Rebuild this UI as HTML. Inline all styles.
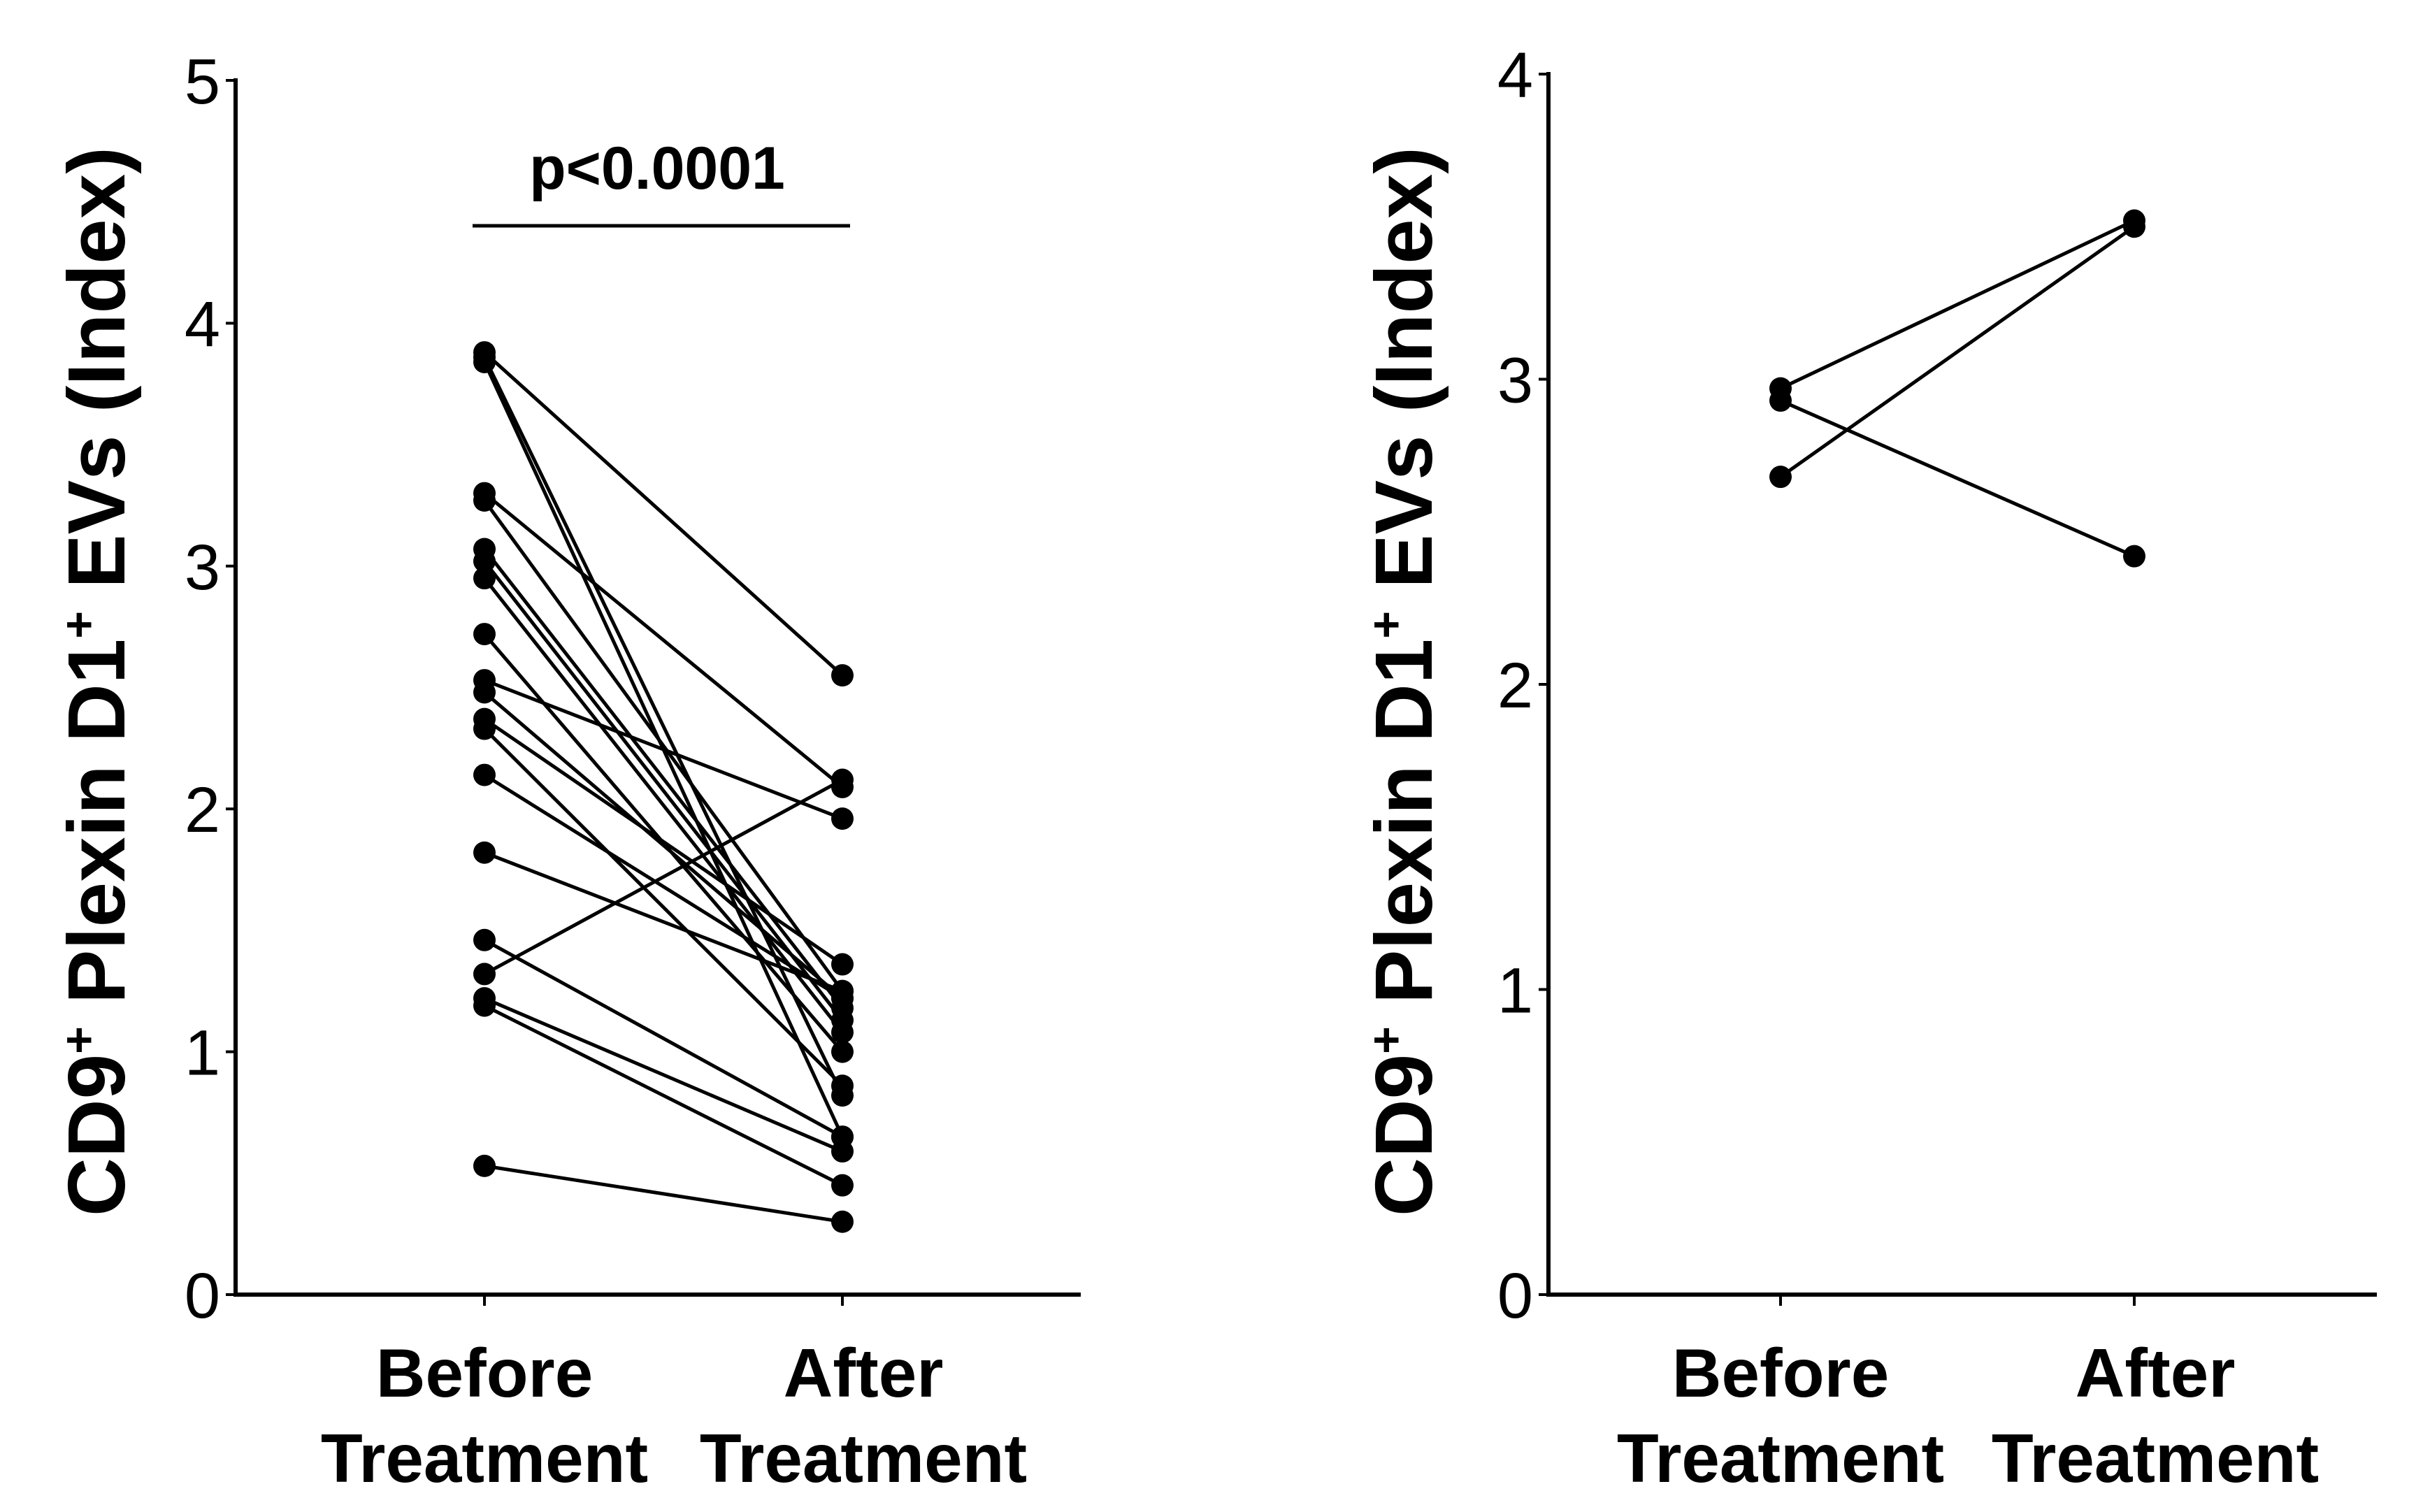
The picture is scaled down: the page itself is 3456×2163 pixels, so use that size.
<!DOCTYPE html>
<html><head><meta charset="utf-8"><style>
html,body{margin:0;padding:0;background:#fff;}
svg{display:block;}
text{font-family:"Liberation Sans",Arial,sans-serif;fill:#000;}
</style></head><body>
<svg id="chart" width="3456" height="2163" viewBox="0 0 3456 2163" xmlns="http://www.w3.org/2000/svg"></svg>
<script>
const categories = ["Before Treatment","After Treatment"];
const leftBefore = [3.88,3.84,3.86,3.30,3.27,3.07,3.02,2.95,2.72,2.53,2.48,2.37,2.33,2.14,1.82,1.46,1.32,1.22,1.19,0.53];
const leftAfter  = [2.55,0.65,0.82,2.09,1.25,1.18,1.13,1.08,1.00,1.96,1.22,1.36,0.86,1.22,1.25,0.65,2.12,0.59,0.45,0.30];
const leftTicks = [0,1,2,3,4,5];
const rightBefore = [2.97,2.93,2.68];
const rightAfter  = [3.52,2.42,3.50];
const rightTicks = [0,1,2,3,4];
const pText = "p<0.0001";

const NS="http://www.w3.org/2000/svg";
const svg=document.getElementById('chart');
function mk(tag,attrs,parent){const e=document.createElementNS(NS,tag);for(const k in attrs)e.setAttribute(k,attrs[k]);(parent||svg).appendChild(e);return e;}

function panel(cfg){
  const g=mk('g',{});
  
  
  const ymax=cfg.ticks[cfg.ticks.length-1];
  const y=v=>cfg.y0-(cfg.y0-cfg.yTop)*v/ymax;
  const xs=[cfg.xB,cfg.xA];
  const ya=mk('line',{x1:cfg.ax,y1:cfg.yTop-3,x2:cfg.ax,y2:cfg.y0,stroke:'#000','stroke-width':6},g);
  
  
  const xa=mk('line',{x1:cfg.ax-3,y1:cfg.y0,x2:cfg.xEnd,y2:cfg.y0,stroke:'#000','stroke-width':6},g);
  
  
  cfg.ticks.forEach(t=>{
    mk('line',{x1:cfg.ax-14,y1:y(t),x2:cfg.ax,y2:y(t),stroke:'#000','stroke-width':4},g);
    const tl=mk('text',{x:cfg.ax-22,y:y(t)+33,'font-size':92,'text-anchor':'end'},g);
    tl.textContent=t;
    
    
  });
  categories.forEach((c,i)=>{
    mk('line',{x1:xs[i],y1:cfg.y0,x2:xs[i],y2:cfg.y0+16,stroke:'#000','stroke-width':4},g);
    const parts=c.split(' ');
    const t1=mk('text',{x:xs[i]+(i?30:0),y:1998,'font-size':98,'font-weight':'bold','text-anchor':'middle'},g);
    t1.textContent=parts[0];
    
    
    const t2=mk('text',{x:xs[i]+(i?30:0),y:2120,'font-size':98,'font-weight':'bold','text-anchor':'middle'},g);
    t2.textContent=parts[1];
    
    
  });
  const tt=mk('text',{x:0,y:0,'font-size':116,'font-weight':'bold','text-anchor':'middle',transform:`translate(${cfg.titleX},${cfg.titleY}) rotate(-90)`},g);
  
  
  const a=mk('tspan',{},tt);a.textContent='CD9';
  const b=mk('tspan',{'font-size':68,dy:-42},tt);b.textContent='+';
  const c=mk('tspan',{dy:42},tt);c.textContent=' Plexin D1';
  const d=mk('tspan',{'font-size':68,dy:-42},tt);d.textContent='+';
  const e=mk('tspan',{dy:42},tt);e.textContent=' EVs (Index)';
  cfg.before.forEach((v,i)=>{
    const l=mk('line',{x1:xs[0],y1:y(v),x2:xs[1],y2:y(cfg.after[i]),stroke:'#000','stroke-width':5},g);
    
    
  });
  cfg.before.forEach(v=>{
    const p=mk('circle',{cx:xs[0],cy:y(v),r:16,fill:'#000'},g);
    
    
  });
  cfg.after.forEach(v=>{
    const p=mk('circle',{cx:xs[1],cy:y(v),r:16,fill:'#000'},g);
    
    
  });
  return g;
}
const gl=panel({name:'left-panel',ax:337,y0:1852,yTop:115,xEnd:1546,xB:693,xA:1205,ticks:leftTicks,before:leftBefore,after:leftAfter,titleX:178,titleY:975});
panel({name:'right-panel',ax:2215,y0:1852,yTop:106,xEnd:3400,xB:2547,xA:3053,ticks:rightTicks,before:rightBefore,after:rightAfter,titleX:2048,titleY:975});
const pl=mk('line',{x1:676,y1:323,x2:1216,y2:323,stroke:'#000','stroke-width':5},gl);


const pt=mk('text',{x:940,y:270,'font-size':86,'font-weight':'bold','text-anchor':'middle'},gl);
pt.textContent=pText;


</script>
</body></html>
